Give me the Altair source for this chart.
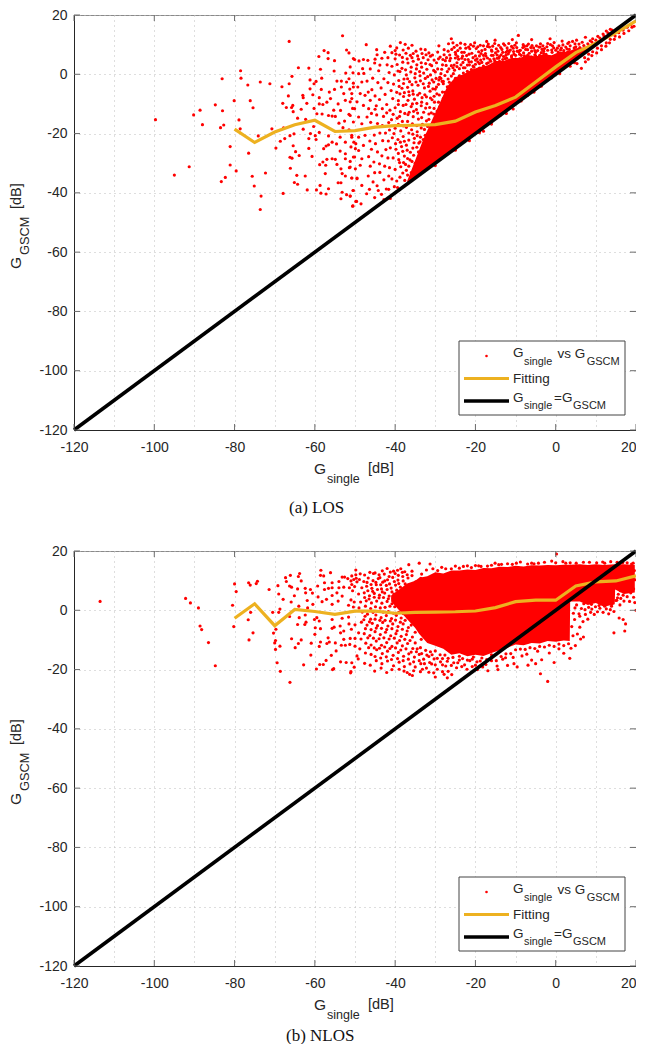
import altair as alt
import pandas as pd

AXIS_VALUES = list(range(-120, 25, 5))
TICK_VALUES = [-120, -100, -80, -60, -40, -20, 0, 20]
LINE_X = [-120, 20]
LINE_Y = [-120, 20]

# Fitted curves
FIT_X_A = [-80,-75,-70,-65,-60,-55,-50,-45,-40,-35,-30,-25,-20,-15,-10,-5,0,5,10,15,20]
FIT_Y_A = [-18.5,-23,-19.5,-17,-15.5,-19.3,-19,-17.8,-17.3,-17.2,-17,-15.8,-12.7,-10.5,-7.7,-2.6,2.5,7.3,10.5,14,18]
FIT_X_B = FIT_X_A
FIT_Y_B = [-2.7,2.2,-5.2,.3,-.4,-1.4,-.3,-.3,-1,-.7,-.6,-.5,-.25,.9,2.9,3.4,3.4,8.2,9.6,9.9,11.6]

# Solid part of the point clouds: lower and upper limit of the saturated red
CLOUD_X_A = [-37,-35,-33,-31,-29,-27,-25,-23,-21,-19,-17,-15,-13,-11,-9,-7,-5,-3,-1,1,3,5,7,9,11,14,18]
CLOUD_LO_A = [-37,-35,-33,-31,-29,-27,-25,-23,-21,-19,-17,-15,-13,-11,-9,-7,-5,-3,-1,1,3,5,7,9,11,14,18]
CLOUD_HI_A = [-36,-29,-22,-16,-10,-4,-1,0,1.5,2.5,3,4.5,4.5,5.5,5.5,6.5,6,6.8,6.4,7.6,7.6,8.8,9,10.4,11.6,14,18]
CLOUD_X_B = [-41,-39,-37,-35,-34,-32,-30,-28,-26,-24,-22,-20,-18,-16,-14,-12,-10,-8,-6,-4,-2,0,2,3.5,3.6,6,8,10,12,14.7,14.8,17,19.7]
CLOUD_LO_B = [3,0,-3,-6,-8,-11,-12,-13,-15,-14.5,-15.5,-15,-15.4,-14.4,-13.5,-12.6,-11.5,-11.8,-11,-11.2,-10.4,-10.6,-10.2,-10.4,3,3,1.8,2.5,1.2,2,7,5.5,6]
CLOUD_HI_B = [5,7,9,10,11,11.5,12.8,12.4,13.4,13.4,13.8,13.6,14.3,14.2,14.7,14.6,15,14.8,15.2,15.1,15.3,15.2,15.4,15.4,15.4,15.5,15.3,15.5,15.3,15.5,15.5,15.5,15.3]

# LOS, scattered points at the far left
LOS_SPARSE = [(-99.7,-15.3),(-95,-34),(-91.3,-31.2),(-90.2,-13.7),(-88.6,-12.1),(-88,-17),(-84.8,-10.3),(-83,-12.3),
(-82.7,-17.1),(-83.5,-18),(-83.1,-1.5),(-78.5,1.2),(-78.4,-1.3),(-76.7,-3.6),(-73.6,-2.6),(-71.2,-3.2),(-80.1,-8.9),
(-76.1,-8.9),(-75.4,-11.3),(-78.9,-15.4),(-78.6,-18.4),(-81.1,-24.4),(-76.5,-26.6),(-74.1,-20.8),(-81.1,-30.6),
(-79.6,-32.6),(-82.3,-34.8),(-83.3,-36.2),(-75.6,-34.4),(-72.3,-33.3),(-75.1,-37.7),(-73.4,-41.1),(-73.6,-45.6),
(-67.9,-40.2),(-66.4,11.1),(-64.1,2.2),(-61.5,2.1),(-58.6,1.7),(-59,6),(-57.7,8),(-56.7,7.3),(-56.7,5.3),(-55.1,4.6),
(-53.1,13),(-52.1,8.2),(-51.5,7.2),(-50.1,5),(-55.2,1.1),(-52.3,.4),(-65.7,-.7),(-68.2,-4.2),(-66.4,-3.2),(-61.2,-1.9),
(-59.7,-2.4),(-60.2,-3.2),(-58.3,-1.3),(-61.2,-4.9),(-58.4,-5.1),(-56.4,-6),(-55.1,-5.1),(-54.5,-2.3),(-53.4,-2.3),
(-52.1,-2.6),(-53.4,-4.3),(-66.6,-7.3),(-68,-9.8),(-63,-7.1),(-62.9,-7.9),(-60.5,-6.9),(-58.9,-7.9),(-62,-9.8),
(-67.1,-11.2),(-65.5,-10.5),(-65.8,-11.2),(-65.4,-12.6),(-63.4,-11.8),(-60.2,-11.5),(-58.9,-10),(-58,-10.2),(-57,-9.4),
(-56.1,-8.2),(-64.3,-14.8),(-62.3,-15.2),(-59.5,-13.3),(-58.2,-13.4),(-56.6,-13.9),(-55.7,-14.1),(-54.9,-14.2),
(-55.3,-12.1),(-53.6,-12.2),(-52.4,-8.8),(-50.8,-8.2),(-70.7,-18.4),(-67.8,-18.1),(-62.9,-18.5),(-60.3,-17.6),
(-58.9,-19.6),(-61.1,-20),(-61.5,-21.7),(-59.9,-20.7),(-59.7,-22),(-56.6,-20.8),(-65.2,-20.1),(-66.2,-20.7),
(-67.5,-21.7),(-68.6,-22.6),(-69.7,-24.9),(-65.4,-24.1),(-64.8,-26.1),(-63.9,-27.4),(-66.2,-28),(-65.7,-28.3),
(-61.5,-25),(-60.7,-27.7),(-66.1,-31.7),(-64.5,-34.1),(-62.4,-34.3),(-65.1,-36.5),(-64.3,-37.1),(-61.9,-39),
(-59.6,-39),(-58.7,-37.5),(-58.5,-40.1),(-57.2,-40.4),(-56.6,-38.6),(-58.8,-30.5),(-57.4,-33.5),(-57.3,-30.7),
(-58,-29.6),(-57,-28.7),(-55.7,-28.5),(-54.9,-28.7),(-54.5,-30.4),(-57.8,-25.1),(-57.2,-24.2),(-56.6,-23.8),
(-55.7,-22.9),(-54.2,-36.6),(-53.5,-36.6),(-53.2,-39.8),(-53.5,-42),(-52.1,-40.6),(-51.2,-41.1),(-50.5,-39.2),
(-50.5,-44.4),(-49.6,-42.9),(-53.2,-33.5),(-52.4,-34.3),(-50.8,-35),(-49.5,-35),(-53.5,-31.9),(-51.4,-31.5),
(-49.9,-31.9),(-51.2,-29.4),(-52.4,-28.5),(-53.7,-25.9),(-52.4,-26.8),(-50.1,-27.9),(-53.7,-21.2),(-52.4,-22.9),
(-50.3,-22.9),(-49.9,-25.1),(-50.8,-20.6),(-54,-16.5),(-52.6,-15.8),(-51.5,-13.5),(-50.6,-11.5),(-54.2,-10),
(-52.8,-6.5),(-51.3,-5),(-50.4,-3),(-51.5,-1.5),(-50.5,.5),(-51.2,2.5),(-53,-18),(-51.5,-18.7),(-54.6,-23.5),(-51,-24.5)]

# LOS, moderately dense zone left of the solid cloud
LOS_MID = [(-50.4,5.3),(-49,4.5),(-47.9,5),(-46.8,4.7),(-48.1,1.9),(-49.1,.2),(-47,-2.3),(-48.3,-2.6),(-50.4,-4.3),
(-49.3,-4.3),(-50.8,-6.5),(-48.7,-6.5),(-47.5,-7.1),(-51.2,-9.3),(-49.5,-9.3),(-50.1,-11.6),(-47.9,-10.5),(-46.6,-11.6),
(-51.2,-13.9),(-49.1,-14.4),(-47,-14.4),(-48.3,-16.7),(-50.4,-16.1),(-50.8,-21.2),(-49.1,-21.2),(-47.5,-20.6),
(-49.8,-23.4),(-47.9,-24),(-49.1,-25.7),(-48.3,-28.5),(-50.4,-27.9),(-48.7,-30.7),(-51.2,-31.3),(-50.8,-35),
(-49.5,-35.2),(-48.3,-37.5),(-50.4,-39.2),(-51.2,-41.1),(-49.8,-42.9),(-48.5,-43.7),(-50.6,-44.5),(-47.2,10),
(-44.6,8.3),(-44.5,6.6),(-45.1,3.8),(-43.8,3.1),(-44.1,1.2),(-45.6,-1.3),(-44.3,-2.8),(-42.8,-1.5),(-43.5,-4.6),
(-45.8,-5.2),(-45,-7.3),(-46.2,-8.8),(-43.9,-8.5),(-42.5,-6.8),(-44.7,-10.6),(-45.9,-13.2),(-43.2,-11.6),(-42.1,-10.2),
(-44.6,-13.7),(-42.9,-14.2),(-46.1,-16.2),(-45.2,-20.5),(-43.8,-19.8),(-46.3,-22.5),(-44.9,-23.4),(-43.1,-22.4),
(-45.9,-25.3),(-44.4,-26.2),(-46.6,-27.8),(-43.3,-27.5),(-45.3,-29.6),(-43.9,-30.2),(-46.2,-31),(-45.1,-33.2),
(-46.7,-34.3),(-43.8,-33.1),(-45.5,-36.3),(-44.5,-37.6),(-46.4,-38.8),(-42.8,-35.6),(-42.2,-38.7),(-43.4,-40.5),
(-45.1,-41.6),(-41.6,-38.8),(-41.2,-41.9),(-42.8,-42.3),(-39.6,8.9),(-38.7,10.7),(-37.5,10.1),(-35.8,9.8),(-40.8,7.3),
(-41.8,5.6),(-40,5.2),(-38.9,6.5),(-37.3,7.1),(-36.2,6.4),(-34.8,7.8),(-33.6,8.5),(-32.5,8.3),(-31.6,7.2),(-42,3.2),
(-40.8,2.7),(-39.5,3.3),(-38.1,4.1),(-36.8,3.8),(-35.5,4.4),(-34.2,5.1),(-33,5.6),(-31.8,4.9),(-30.7,6.5),(-29.4,7.5),
(-28.8,5.8),(-41.5,.6),(-40.2,-.2),(-38.8,.9),(-37.4,1.5),(-36.1,.8),(-34.7,1.8),(-33.4,2.4),(-32.1,1.7),(-30.9,2.9),
(-29.7,3.9),(-28.2,3.2),(-41.8,-2.8),(-40.4,-3.3),(-39.1,-2.1),(-37.8,-1.6),(-36.4,-2.5),(-35.1,-1.2),(-33.8,-.5),
(-32.5,-1.4),(-31.2,-.2),(-30,.8),(-28.6,.2),(-41,-5.5),(-39.6,-6.1),(-38.3,-4.7),(-36.9,-4.4),(-35.6,-5.6),(-34.3,-3.7),
(-33,-3.2),(-31.7,-4.1),(-30.4,-2.6),(-29.1,-1.9),(-40.6,-8.2),(-39.2,-8.9),(-37.9,-7.5),(-36.5,-7.1),(-35.2,-8.4),
(-33.9,-6.4),(-32.6,-6.9),(-31.3,-5.7),(-30,-5),(-41.3,-12.1),(-40,-11.3),(-38.7,-12.6),(-37.3,-10.2),(-36,-10.9),
(-34.7,-11.9),(-33.4,-9.4),(-32.1,-9.9),(-30.8,-8.6),(-40.9,-15.3),(-39.5,-14.8),(-38.2,-15.9),(-36.8,-13.6),(-35.5,-14.3),
(-34.2,-15.1),(-32.9,-12.8),(-31.6,-13.4),(-30.3,-11.5),(-29.5,-12.4),(-41.4,-18.8),(-40,-18.2),(-38.6,-19.1),(-37.2,-17.9),
(-35.9,-18.7),(-34.5,-19.4),(-33.2,-16.9),(-31.9,-17.6),(-40.7,-21.4),(-39.3,-22),(-38,-21),(-36.6,-22.2),(-35.2,-21.6),
(-33.8,-22.8),(-32.5,-20.6),(-41.2,-24.8),(-39.8,-25.3),(-38.4,-24.4),(-37,-25.6),(-35.6,-24.9),(-34.2,-26.2),(-33,-24.3),
(-40.5,-28.2),(-39.1,-28.8),(-37.7,-27.6),(-36.3,-28.9),(-35,-30),(-34,-29.1),(-41.4,-31.5),(-40,-32.1),(-38.6,-31.2),
(-37.2,-32.4),(-36,-33.2),(-35.2,-31.9),(-40.8,-35.3),(-39.6,-36),(-38.8,-34.7),(-37.6,-35.8),(-36.9,-34),(-40.2,-37.9),
(-39.4,-38.2),(-44.2,-39.2),(-47.1,-40.3),(-29.1,9.6),(-27.8,8.3),(-26,12),(-26.7,10.3),(-25.3,9.1),(-24.4,8),(-26.4,6.5),
(-25,5.5),(-23.7,10.5),(-22.6,10.1),(-21.4,8.6),(-20.5,9.5),(-19.2,7.6),(-23.2,6.1),(-21.8,5),(-20,6.2),(-18.7,4.8),
(-27.5,4.6),(-26,2.9),(-24.6,3.9),(-23,2.2),(-21.5,3.2),(-27,.9),(-25.5,.2),(-24,-.5),(-28,-3.2),(-26.5,-2.7),(-29,-7),(-27.6,-6.1)]

# LOS, second reading of the zone left of the cloud, where the dots nearly touch
LOS_MID2 = [(-38.1,-33.3),(-37.4,-30.4),(-36.6,-31),(-35.8,-29.4),(-35.4,-27.3),(-36.9,-28.4),(-37.9,-29.8),(-38.9,-29.8),(-34.6,-24.6),
(-35.3,-23.1),(-36.2,-26.3),(-37.2,-23.9),(-38.1,-26),(-39.2,-26.7),(-33.7,-21.2),(-34.5,-20.7),(-35.6,-20.2),(-36.6,-19.8),(-37.7,-22.6),
(-38.7,-22.9),(-39.9,-23.4),(-32.7,-18.6),(-33.5,-18.1),(-34.6,-17.3),(-35.7,-16.7),(-36.9,-15.9),(-38,-17.4),(-39.2,-16.9),(-40.3,-20),
(-32.2,-15.7),(-33.4,-14.6),(-34.4,-13.1),(-35.4,-12.5),(-36.5,-12.8),(-37.6,-13.2),(-38.9,-14.2),(-40.5,-13.5),(-31.4,-11.2),(-32.4,-11.4),
(-33.5,-10.6),(-34.6,-9.8),(-35.7,-10),(-36.8,-8.8),(-38,-10.5),(-39.2,-10.2),(-30.3,-7.4),(-31.2,-8),(-32.2,-7.6),(-33.3,-7.9),(-34.4,-7),
(-35.5,-6.7),(-36.6,-5.9),(-37.7,-6.2),(-38.8,-6.6),(-29.7,-4.3),(-30.6,-4.9),(-31.5,-3),(-32.7,-4.6),(-33.7,-2.2),(-34.8,-2.6),(-35.8,-3.5),
(-36.9,-1.5),(-37.9,-3.1),(-39,-4.1),(-28.9,-1),(-29.8,-1.4),(-30.8,-1.9),(-31.9,-.8),(-32.9,.4),(-33.9,.9),(-35,.2),(-36,2.4),(-37.2,-.2),
(-38.3,2),(-39.3,1.1),(-28.4,1.7),(-29.4,1.8),(-30.4,1.3),(-31.3,3.3),(-32.4,3.6),(-33.5,3.9),(-34.6,3.2),(-35.8,5.6),(-37,5.2),(-38.2,5.7),
(-27.3,3),(-28.1,5),(-29.2,5.2),(-30.3,4.8),(-31.2,6.1),(-32.3,6.6),(-33.3,7),(-34.4,6.2),(-35.5,7),(-36.7,8.8),(-38,8.2),(-39.8,6.8),
(-42.4,-19.8),(-43.2,-17.3),(-41.6,-16.3),(-42.1,-13),(-41.7,-22.5),(-42.3,-25.4),(-41.8,-28.2),(-42.6,-31),(-41.6,-34.3),(-44.4,-16.6),(-45,-11.8),
(-46.7,-6),(-47.8,.3),(-46.2,1.8),(-45,5.1),(-43.3,5.4),(-42.6,7.4),(-41.2,9.5),(-40,8)]

# LOS, fringe above the solid cloud
LOS_FRINGE = [(-17.2,11.1),(-15.1,11.5),(-13,10.3),(-10.8,11.7),(-9.3,13.1),(-8.1,10),(-6,11.7),(-3.9,9.2),(-1.4,12),
(-1.3,10),(5.2,11.5),(7.4,12.5),(4.8,10.3),(-18,9.6),(-16.5,9.2),(-14.2,9.8),(-12.1,8.9),(-11,9.4),(-9.7,9),(-7.5,8.4),
(-5.5,8.9),(-4.5,8),(-2.8,8.7),(-.5,8.9),(1.2,8.2),(2.5,9.2),(3.6,9.6),(5.8,10.2),(6.6,10.8),(8.6,11.3),(9.2,12),
(10.5,12.8),(11.8,13.6),(12.6,14.6),(13.6,15.2),(-17.5,7),(-15.9,7.8),(-14.6,6.5),(-13.2,7.4),(-11.8,6.9),(-10.5,7.7),
(-9,6.8),(-7.8,6.2),(-6.6,7.1),(-5.2,6.6),(-3.6,7.3),(-2.4,6.7),(-.9,7.4),(.6,7.5),(2,8),(3.4,8.4),(4.6,8.9),(-19,3.6),
(-17.9,5.2),(-16.8,3.9),(-15.4,5.2),(-14,4.4),(-12.6,5.3),(-11.4,4.7),(-20.6,2.8),(-22,1),(-19.7,.9),(-24.8,-2),(-23.3,-3.6),
(5.3,3.6),(6.4,2),(7.4,4.2),(8.1,5.1),(9,6.3),(10.2,7.2),(11.4,8.3),(12.5,9.5),(13.4,10.6),(14.6,11.8),(15.9,12.6),
(17,13.8),(18.2,14.7),(19,15.9),(19.5,16.2),(-13.8,-13.8),(-8.6,-9),(-7,-7.1),(-3.6,-4),(-1,-1.2),(-30,-30.8),(-25,-25.6),
(-19,-19.7),(-18,-19.2),(-21.5,-22.4),(-16,-16.8)]

# LOS, second reading of the fringe, dots between the solid part and the top edge
LOS_FRINGE2 = [(-25.9,8.4),(-24.9,6.7),(-23.8,8.8),(-22.8,7.4),(-21.7,9.2),(-20.9,7.1),(-19.8,8.7),(-18.8,9.8),(-17.6,8.4),(-16.8,10.2),(-15.7,9.5),(-14.8,8.6),
(-13.7,9),(-12.7,9.8),(-11.7,10.4),(-10.6,8.8),(-9.8,10.6),(-8.8,8.1),(-7.8,9.4),(-6.8,10.2),(-5.9,9.7),(-4.8,9.6),(-3.4,8.4),(-2.2,9.3),(-.4,10.7),(.8,9.6),
(1.8,9.9),(3,10.4),(4.2,11.1),(-26.4,4.6),(-25.3,3.1),(-24.2,5.1),(-23.1,4),(-22.2,6.3),(-21,4.2),(-20,4.8),(-19,6.2),(-18,6.4),(-17,5.5),(-16,6.4),(-15,7.2),
(-14,6),(-13,6),(-12,8),(-11,6.2),(-10,6.4),(-9,8),(-8,7.2),(-7,8.3),(-6,7.8),(-5,7.4),(-4,6.4),(-3,7.8),(-2,8.1),(-1,8.2),(0,8.1),(1,7),(2,7.2),(3,7.6),
(-25.2,1.4),(-24,1.9),(-23,.4),(-22,3.1),(-21,1.6),(-20,3.4),(-19,2.1),(-18,2.8),(-17,2.4),(-16,2.8),(-15,3.8),(-14,3.3),(-13,4),(-12,3.8),(-11,5.8),(-10,5.1),
(-9,5.2),(-8,5.2),(-7,6.4),(-6,5.8),(-5,6.2),(-4,5.9),(-3,7),(-26,-.6),(-25,-1.4),(-24,-2.2),(-23,-.9),(-22,-1.1),(-21,-.4),(-20,-.9),(-28.3,-2.4),(-27,-4.2),
(-26,-4.6),(-28.2,-6),(-28,-8.2),(-27.6,-10),(-29.2,-9.4),(-28.9,-11),(-30.4,-13.4),(-29.7,-15.4),(-30.9,-17),(-32,-20.3),(-33,-22),(-34.1,-23.2),(5,9.3),(6,9),
(7,9.7),(8,10.3),(9,10.9),(10,11.5),(11,12.2),(12,13),(13,14),(14,14.9),(7.2,5.6),(8.2,6.8),(9.2,7.6),(10.4,8.8),(11.4,9.6),(12.6,10.6),(13.6,11.8),(14.8,12.9),
(15.7,14),(16.8,14.9),(17.8,15.9),(18.7,16.8),(-12.3,-13.2),(-10.6,-11.7),(-5.4,-6),(1,.2),(3.6,2.7),(4.7,3.9),(-3.8,10.3),(1.6,11.2),(3.3,10.8),
(-27.8,6.6),(-26.8,7.8),(-25.6,10.6),(-24.6,9.8),(-23.4,7.4),(-22.4,8.8),(-21.2,10),(-20.2,10.6),(-19.4,9.3),(-18.4,8),(-17,9.4),(-16,8.2),(-15.2,10.4),(-14.4,7.8),
(-13.4,8.4),(-12.4,7.4),(-11.3,8.2),(-10.2,9.8),(-9.2,7.6),(-8.2,9),(-7.2,9.6),(-6.2,9),(-5.2,8),(-4.2,9.2),(-3.2,9.6),(-2,10.4),(-.8,9.6),(.4,8.8),(1.4,8.8),(2.8,8.6),
(-27.2,5.6),(-26.2,5.4),(-25,7.4),(-24.4,6),(-23.4,5.4),(-22.6,5),(-21.6,6.8),(-20.6,5.6),(-19.6,5.2),(-18.6,7),(-17.4,6.2),(-16.4,5),(-15.6,6.4),(-14.6,5.4),(-13.6,6.6),
(-12.4,6.4),(-11.6,7.6),(-10.4,6.8),(-9.6,7.8),(-8.6,6.4),(-26.6,1.8),(-25.6,2.2),(-24.6,2.6),(-23.6,3.2),(-22.6,2.2),(-21.6,4.2),(-20.4,2.4),(-19.4,4.2),(-18.4,4),(-17.2,3.6),
(-16.2,4.4),(-15.2,4.6),(-14.2,5.4),(-13.2,5),(-12.2,5.4),(-28.6,-1.4),(-27.6,-.4),(-26.8,-1.6),(-29.6,-6.6),(-30.2,-9.4),(-31,-13),(-31.6,-15.2),(-29.2,-3.4),(-28,-2.4)]

# NLOS, scattered points at the far left
NLOS_SPARSE = [(-113.5,3),(-92.2,4),(-91,2.5),(-89,.8),(-88.6,-5.3),(-88.2,-6.5),(-86.5,-10.9),(-84.8,-18.7),(-80.5,1.7),
(-80,8.9),(-79.6,6.3),(-80.2,-5.5),(-76.5,9.3),(-76.1,8.5),(-74.6,9),(-74.3,9.8),(-76,-.7),(-76.6,-3.2),(-75.4,-7.6),
(-76.4,-10),(-71.4,7),(-69.2,8.3),(-69,5.5),(-67.9,3.7),(-70.5,-.7),(-68.7,.4),(-69,-.7),(-70.3,-7.7),(-69.7,-6.4),
(-69.8,-10.2),(-70,-11),(-68.7,-12.1),(-69.8,-13.2),(-69.4,-17.7),(-68.6,-20.6),(-66.2,-24.3),(-65.8,-9.6),(-64.9,-12.6),
(-64.1,-11.2),(-63.4,-10),(-62.8,-18.4),(-61,-15.1),(-67.3,11),(-67.1,9.7),(-66.1,11.8),(-66.3,8.2),(-65.8,7.8),(-63.8,12.4),
(-64.1,11.4),(-63.4,9.9),(-64.3,7.2),(-65.1,4.9),(-65.9,2.8),(-66.3,-2.1),(-64,1.4),(-63.9,-2.5),(-64.3,-4.8),(-62.4,7.4),
(-62.3,5.9),(-61.1,7),(-60.6,5.8),(-61.9,3.3),(-60.5,2),(-61.8,.8),(-59.2,4.5),(-59.3,8.2),(-58.5,13.5),(-58.6,11.8),
(-57.8,11.6),(-56.1,12.7),(-57.6,9.3),(-55.7,9.3),(-57.6,7),(-55.7,7.6),(-56.6,7.4),(-54.5,5.9),(-55.7,5),(-57.1,3.7),
(-58.2,2.9),(-55.7,2),(-54.2,3.1),(-53.2,4.8),(-53.2,11.2),(-52.6,11.2),(-54,9.7),(-51.8,10.7),(-52.8,7.8),(-54,7.6),
(-50.8,11.6),(-62.5,-4.8),(-62.2,-4),(-62.4,-1.6),(-60.1,-3.1),(-59.5,-2.5),(-58.9,-3.6),(-59.9,-5.9),(-58.6,-6.2),(-60,-8.1),
(-58.6,-10.7),(-60.9,-11.1),(-58.9,-12.2),(-56.7,-9.3),(-56.4,-10.7),(-57,-11.2),(-54.9,-11),(-55.7,-6.1),(-55.2,-5.7),
(-53.7,-5.3),(-52.8,-7),(-53.6,-7.6),(-50.9,-6.4),(-55.7,-3.1),(-53.2,-2.7),(-51.6,-2.3),(-53.4,-11.8),(-52.4,-11.8),
(-52.8,-9.8),(-51.2,-9.5),(-50,-9.5),(-51.3,-11.5),(-50,-12.1),(-54.7,-13.7),(-55.9,-15.2),(-49.5,-15.4),(-57.2,-16.9),
(-57.9,-18.3),(-58.8,-18.3),(-59.6,-19.8),(-55.6,-20),(-55.3,-19.7),(-53.6,-17.4),(-52.2,-17.6),(-50.8,-17.7),(-50.2,-19.2),
(-51.1,-21.1),(-51,9.9),(-50.3,10.4),(-50.8,8.7),(-50.1,8),(-51.4,7.6),(-50.6,6.6),(-49.8,12),(-49.7,10.8),(-49.5,9.6),
(-51,3.5),(-50.2,2.8),(-51.6,1.7),(-50.4,1.1),(-51.5,-4.6),(-50,-4.9)]

# NLOS, moderately dense zone left of the solid cloud
NLOS_MID = [(-49.8,13.6),(-48.7,12.3),(-47.6,11.9),(-46.3,12.8),(-45.4,12.4),(-44,12),(-43.2,13.3),(-42,14.1),(-41.2,12.9),
(-40,12.4),(-39.4,13.5),(-38.6,14),(-37.6,13),(-36.6,15.4),(-35.8,13.2),(-34,15.9),(-48.9,10.4),(-47.8,9.7),(-46.7,10.9),
(-45.5,10),(-44.2,10.7),(-43.1,9.5),(-41.9,10.3),(-40.6,11.1),(-39.3,10.2),(-38.1,11.4),(-36.8,10.9),(-48.3,7.6),(-47.1,8.1),
(-45.8,7.4),(-44.7,8.6),(-43.4,7.2),(-42.2,8.4),(-41,7.5),(-39.9,8.5),(-38.7,7.8),(-37.5,8.9),(-36.3,8.2),(-49.1,5.5),(-47.7,5.9),
(-46.4,4.9),(-45.2,5.7),(-43.9,5.1),(-42.6,5.8),(-41.5,4.8),(-40.3,5.5),(-39,5.1),(-37.8,5.8),(-36.6,6.1),(-48.6,2.8),(-47.2,3.2),
(-45.9,2.5),(-44.6,3.1),(-43.3,2.4),(-42,3),(-40.8,2.2),(-39.5,2.9),(-38.3,3.1),(-37,2.7),(-49,.8),(-47.5,-2),(-46.1,-3),(-44.8,-1.6),
(-43.5,-2.5),(-42.2,-1.8),(-40.9,-2.8),(-39.7,-1.7),(-38.5,-2.6),(-48.4,-4),(-47,-5),(-45.7,-4.4),(-44.4,-5.2),(-43.1,-4.1),(-41.8,-5.3),
(-40.6,-4.6),(-39.3,-5.5),(-38,-4.6),(-36.7,-5.8),(-49.1,-7.6),(-47.7,-7.9),(-46.3,-8.5),(-45,-7.2),(-43.7,-8.2),(-42.4,-7.4),(-41.1,-8.6),
(-39.8,-7.9),(-38.5,-8.8),(-37.2,-8.2),(-48.5,-9.7),(-47.3,-11.1),(-46,-11.7),(-44.7,-10.4),(-43.4,-11.8),(-42.1,-10.9),(-40.8,-12.2),
(-39.5,-11),(-38.2,-12),(-36.9,-11.2),(-35.6,-12.9),(-48.8,-13),(-47.4,-14.4),(-46,-14.9),(-44.6,-13.3),(-43.2,-14.6),(-41.9,-13.8),(-40.5,-15.2),
(-39.2,-14.2),(-37.9,-15.5),(-36.6,-14.7),(-35.2,-15.8),(-34,-14.9),(-32.9,-16.5),(-31.6,-15.6),(-30.3,-16.4),(-49.2,-16.4),(-47.6,-17.9),
(-46.2,-18.5),(-44.7,-17),(-43.3,-18),(-41.9,-17.1),(-40.4,-18.7),(-39,-17.5),(-37.7,-19),(-36.3,-18.1),(-35,-19.1),(-33.6,-18),(-32.2,-19.5),
(-30.9,-18.1),(-29.5,-19.9),(-28.2,-18.4),(-51,-20.7),(-45.1,-20.5),(-42.1,-21),(-37,-21),(-37.8,-20.5),(-36.4,-21.6),(-35.7,-22),
(-31.6,-20.9),(-30.4,-21.1),(-28.2,-20.7),(-27.8,-21.6),(-26.8,-20.6),(-25.9,-21.7),(-27,-17.2),(-25.4,-17.7),(-24,-16.8),(-22.7,-18.4),
(-21.4,-17),(-20,-18.5),(-18.8,-17.1),(-17.4,-18.3),(-16,-17),(-14.6,-18.8),(-13.2,-16.5),(-12,-18.6),(-10.6,-15.9),(-9.6,-19.1),(-8.4,-15.4),
(-7.2,-14.8),(-6,-16.8),(-4.5,-13.8),(-3.5,-16.7),(-1.6,-14.4),(-3.8,-21.4),(-2,-24),(-.4,-17.6),(.8,-13),(2,-14.5),(3.8,-12.8),(4.9,-11.9),
(3.5,-16.2),(6.2,-9.7),(6.9,-9),(5.4,-8),(4.3,-8.6),(6,-5.7),(4.7,-3.1),(5.8,-1.2),(6.8,-3.8),(8,-3),(7.3,.2),(8.7,-.7),(9.9,1.2),(11,.7),
(12.6,.5),(13.6,.2),(13.9,1.4),(14.5,-.4),(15.8,-2.6),(16.8,-3.1),(17.4,-4.6),(14.5,-7.6),(17.2,-7),(20,-0),(16,1.8),(8.9,2),(7,2.2),
(-27,-22.8),(-30,-22.5),(-16,-15),(-12.5,-16),(-24,-15.5),(-20.5,-15.8),(-33.7,-20.7),(-34.5,-13)]

# NLOS, second reading of the crowded left part and the lower fringe
NLOS_MID2 = [(-45,12.6),(-43.8,11),(-42.7,12.2),(-41.5,11.4),(-40.4,13.2),(-39.2,11.8),(-38.2,12.8),(-37,12),(-35.8,11.7),(-47,9.4),(-46,8.7),(-44.8,9.4),(-43.6,8.6),
(-42.6,9.9),(-41.4,8.9),(-40.2,9.7),(-39.1,9),(-38,9.9),(-46.8,6.6),(-45.6,6.4),(-44.4,7),(-43.2,6.2),(-42,7),(-40.8,6.2),(-39.6,6.8),(-38.5,6.4),(-47.6,4.3),(-46.5,3.8),
(-45.2,4.4),(-44,4.2),(-42.9,4.3),(-41.7,3.9),(-40.5,4),(-39.3,4.2),(-38.9,1.8),(-40.1,1.2),(-41.3,1.4),(-42.5,1),(-43.7,.8),(-44.9,1.2),(-46.1,.6),(-47.4,1.4),(-48.2,-.6),
(-46.9,-1.3),(-45.5,-.7),(-44.3,-.4),(-43,-.6),(-41.7,-.4),(-40.4,-1),(-39.1,-.7),(-47.8,-3.2),(-46.4,-3.9),(-45,-3),(-43.8,-3.4),(-42.5,-3.4),(-41.2,-3.6),(-39.9,-3.3),
(-38.7,-4),(-37.5,-3.4),(-47.4,-6.2),(-46,-6.5),(-44.7,-6),(-43.4,-6.1),(-42.1,-6.5),(-40.8,-6.2),(-39.5,-6.9),(-38.2,-6.4),(-37,-7),(-35.7,-9),(-46.8,-9.3),(-45.4,-9.4),
(-44,-9.6),(-42.8,-9.3),(-41.5,-9.7),(-40.2,-9.4),(-38.9,-10.2),(-37.6,-9.8),(-36.3,-10.2),(-35,-11),(-33.7,-12.6),(-32.4,-13.5),(-31.2,-14),(-30,-13.7),(-28.8,-15),
(-27.6,-15.1),(-46.6,-12.6),(-45.2,-12.7),(-43.9,-12.8),(-42.6,-12.4),(-41.3,-12.9),(-39.9,-12.7),(-38.6,-13.4),(-37.3,-13),(-36,-14.1),(-34.7,-14),(-33.4,-14.6),(-32.1,-15.1),
(-30.8,-15),(-29.5,-16.2),(-28.2,-16.3),(-26.8,-16.2),(-25.6,-15.9),(-24.4,-17.7),(-23.2,-16.3),(-22,-16.8),(-20.8,-16.5),(-19.6,-17.4),(-18.4,-16.1),(-17.2,-16.6),(-16,-15.9),
(-14.8,-17),(-13.6,-15.6),(-12.4,-14.7),(-11.2,-14.6),(-10,-13.3),(-8.8,-13.1),(-7.6,-13.2),(-6.4,-12.6),(-5.2,-12.9),(-4,-12.2),(-2.8,-12.4),(-1.6,-11.8),(-.4,-12.2),(.8,-11.4),
(2,-11.9),(3.2,-11.3),(-45,-15.6),(-43.6,-16.1),(-42.2,-15.7),(-40.9,-16.6),(-39.4,-16.3),(-38,-17),(-36.7,-16.5),(-35.4,-17.4),(-34,-17),(-32.7,-18),(-31.4,-17.6),(-30,-18.4),
(-28.7,-17.4),(-27.4,-18.8),(-26,-18.6),(-24.7,-19.4),(-23.4,-19),(-22.1,-19.9),(-20.8,-19),(-19.5,-20),(-18.2,-19.1),(-16.9,-20.4),(-43.5,-19.5),(-40.8,-20),(-39,-19.9),(-33.2,-19.9),
(-35.4,-20.4),(-5,-18),(-6.9,-18.5),(-10.4,-18),(-14.4,-20),(4,-5.5),(4.4,-1),(4.8,.8),(5.2,1.8),(6,-2),(6.4,.6),(7.4,-1.4),(8.2,1),(9,.4),(9.6,-1.4),(10.4,-.5),(10.8,1.6),(11.8,-.7),
(12.2,1.4),(13.2,-1.2),(14,2.1),(15.2,3.4),(15.6,5.4),(16.2,4),(17,3.1),(17.8,4.6),(18.4,3),(19.4,4.4),(19.7,2.6),(-33.6,10.8),(-34.9,9.6),(-35.6,8.6),(-36.6,7.6),(-37.4,5.7),
(-37.8,3.9),(-37.1,.7),(-38,-1.1),(-36.8,-2.4),(-36,-5),(-35,-7.4),(-33.5,-9.8)]

# NLOS, fringe above the solid cloud
NLOS_FRINGE = [(-31.3,15.6),(-28.4,14.5),(-25,14.9),(-22,15),(-20,15.1),(-17,14.9),(-15.1,15.9),(-13.5,15.5),(-10.8,15.5),(-8.8,16.3),
(-7,15.6),(-4.3,15.9),(-2.8,16.2),(-1,16.6),(.2,19),(1.8,16.4),(3.6,16),(5.1,15.9),(6.9,16.2),(8.4,16.2),(10.2,16),(11.7,16.3),(13.7,16.4),
(15.3,16.2),(16.7,16.1),(17.8,16),(19.3,15.9),(19.6,13.4),(19.7,10.3),(19.4,7.2),(18.7,5.9),(18.4,7.7),(17.4,6.5),(16.8,5.1),(16.1,6.6),
(15.4,4.2),(15,3.3),(13.3,2.7),(11.6,2.2),(-26,14),(-24,14.2),(-18.6,14.8),(-12,15.7),(-6,15.9),(0,16),(2.5,15.9),(12.2,15.9),(18.9,15.6),
(-33.4,12.2),(-32.2,13.6),(-30.6,14),(-29.4,13.4),(-27.4,14),(-23,14.8),(-21,14.4),(-19.2,15),(-16,15.2),(-14.2,15.4),(-9.8,15.9),(-5.4,15.7)]

ALL_A = LOS_SPARSE + LOS_MID + LOS_MID2 + LOS_FRINGE + LOS_FRINGE2
ALL_B = NLOS_SPARSE + NLOS_MID + NLOS_MID2 + NLOS_FRINGE

W, H = 562, 415
RED = "#ff0000"
ORANGE = "#EDB120"
INK = "#262626"
SANS = "Liberation Sans"
SERIF = "Liberation Serif"
ONE = pd.DataFrame({"a": [0]})
XS = alt.Scale(domain=[-120, 20], nice=False, zero=False)
YS = alt.Scale(domain=[-120, 20], nice=False, zero=False)
LABEL = "datum.value % 20 == 0 ? '' + datum.value : ''"


def txt(text, x, y, size=14, angle=0, font=SANS, color=INK):
    return alt.Chart(ONE).mark_text(
        text=text, align="left", baseline="middle", font=font, fontSize=size, angle=angle, color=color
    ).encode(x=alt.value(x), y=alt.value(y))


def panel(points, fit_x, fit_y, cloud_x, cloud_lo, cloud_hi, caption, cap_x, cap_y):
    pts = pd.DataFrame(points, columns=["x", "y"])
    fit = pd.DataFrame({"x": fit_x, "y": fit_y})
    line = pd.DataFrame({"x": LINE_X, "y": LINE_Y})
    cloud = pd.DataFrame({"x": cloud_x, "lo": cloud_lo, "hi": cloud_hi})
    ticks = pd.DataFrame({"v": TICK_VALUES})

    axis_common = dict(
        values=AXIS_VALUES, title=None, ticks=False, labelExpr=LABEL, labelFont=SANS, labelFontSize=14,
        labelColor=INK, grid=True, gridColor="#bdbdbd", gridDash=[1, 4], gridWidth=1, domainColor=INK,
        labelOverlap=False, labelBound=False, labelFlush=False,
    )
    solid = alt.Chart(cloud).mark_area(color=RED, opacity=1).encode(
        x=alt.X("x:Q", scale=XS, axis=alt.Axis(
            labelPadding=10,
            labelAlign={"condition": {"test": "datum.value == 20", "value": "right"}, "value": "center"},
            **axis_common)),
        y=alt.Y("lo:Q", scale=YS, axis=alt.Axis(labelPadding=7, **axis_common)),
        y2="hi:Q")
    scatter = alt.Chart(pts).mark_circle(color=RED, size=10, opacity=1).encode(
        x=alt.X("x:Q", scale=XS), y=alt.Y("y:Q", scale=YS))
    fit_line = alt.Chart(fit).mark_line(color=ORANGE, strokeWidth=3.2).encode(
        x=alt.X("x:Q", scale=XS), y=alt.Y("y:Q", scale=YS))
    id_line = alt.Chart(line).mark_line(color="#000000", strokeWidth=3.6).encode(
        x=alt.X("x:Q", scale=XS), y=alt.Y("y:Q", scale=YS))

    tick_color = "#6a6a6a"
    tk = [
        alt.Chart(ticks).mark_rule(color=tick_color).encode(x=alt.X("v:Q", scale=XS), y=alt.value(0), y2=alt.value(6)),
        alt.Chart(ticks).mark_rule(color=tick_color).encode(x=alt.X("v:Q", scale=XS), y=alt.value(H - 6), y2=alt.value(H)),
        alt.Chart(ticks).mark_rule(color=tick_color).encode(y=alt.Y("v:Q", scale=YS), x=alt.value(0), x2=alt.value(6)),
        alt.Chart(ticks).mark_rule(color=tick_color).encode(y=alt.Y("v:Q", scale=YS), x=alt.value(W - 6), x2=alt.value(W)),
    ]

    lx, ly = 385, 326
    legend = [
        alt.Chart(ONE).mark_rect(fill="white", stroke="#444444", strokeWidth=1).encode(
            x=alt.value(lx), x2=alt.value(lx + 166), y=alt.value(ly), y2=alt.value(ly + 74)),
        alt.Chart(ONE).mark_circle(color=RED, size=7, opacity=1).encode(x=alt.value(lx + 27.5), y=alt.value(ly + 15)),
        txt("G", lx + 54, ly + 12, 13.5),
        txt("single", lx + 65, ly + 21, 10.8),
        txt("vs G", lx + 98.5, ly + 13, 13.5),
        txt("GSCM", lx + 127.7, ly + 21, 11),
        alt.Chart(ONE).mark_rule(color=ORANGE, strokeWidth=3.2).encode(
            x=alt.value(lx + 5), x2=alt.value(lx + 50), y=alt.value(ly + 37.5)),
        txt("Fitting", lx + 54, ly + 38, 13.5),
        alt.Chart(ONE).mark_rule(color="#000000", strokeWidth=3.6).encode(
            x=alt.value(lx + 5), x2=alt.value(lx + 50), y=alt.value(ly + 60)),
        txt("G", lx + 54, ly + 57, 13.5),
        txt("single", lx + 65, ly + 65, 10.8),
        txt("=G", lx + 95, ly + 57, 13.5),
        txt("GSCM", lx + 114, ly + 65, 11),
    ]

    labels = [
        txt("G", 240, 454, 15.5),
        txt("single", 253, 464, 12.5),
        txt("[dB]", 294, 454, 14.5),
        txt("G", -58, 254, 15.5, angle=270),
        txt("GSCM", -49.5, 240, 12.8, angle=270),
        txt("[dB]", -57, 194, 14.5, angle=270),
        txt(caption, cap_x, cap_y, 17, font=SERIF, color="#111111"),
    ]
    return alt.layer(solid, scatter, fit_line, id_line, *tk, *legend, *labels).properties(width=W, height=H)


top = panel(ALL_A, FIT_X_A, FIT_Y_A, CLOUD_X_A, CLOUD_LO_A, CLOUD_HI_A, "(a)  LOS", 215, 493)
bottom = panel(ALL_B, FIT_X_B, FIT_Y_B, CLOUD_X_B, CLOUD_LO_B, CLOUD_HI_B, "(b)  NLOS", 212, 485)

chart = alt.vconcat(top, bottom, spacing=26).properties(
    padding={"top": -1, "left": 0, "right": -8, "bottom": -1}
).configure_view(stroke="#8a8a8a", strokeWidth=1)

chart.save("out.html", embed_options={"renderer": "svg", "actions": False})
